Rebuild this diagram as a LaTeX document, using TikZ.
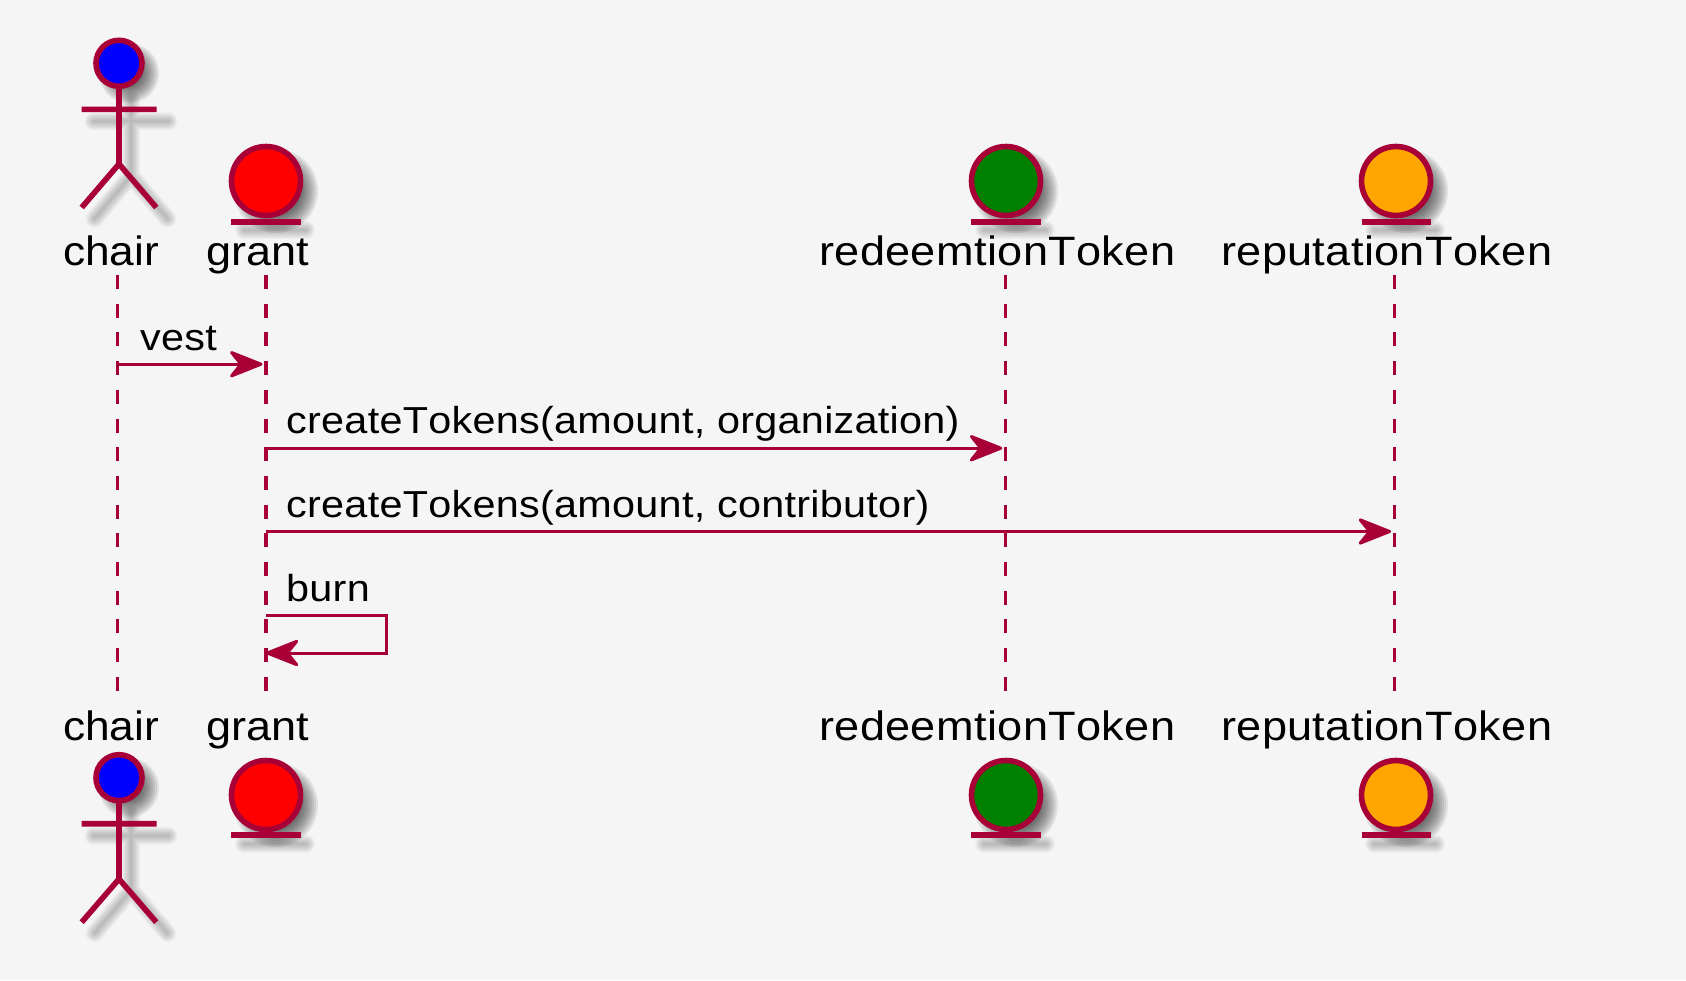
\documentclass[tikz,border=0pt]{standalone}
\usepackage{fontspec}
\setmainfont{Liberation Sans}
\newfontfamily\widefont{Liberation Sans}[Kerning=Off,FakeStretch=1.1,LetterSpace=0.9]
\newfontfamily\plainfont{Liberation Sans}[Kerning=Off,FakeStretch=1.1]
\newfontfamily\chairfont{Liberation Sans}[Kerning=Off,FakeStretch=1.08]
\newfontfamily\msgfont{Liberation Sans}[Kerning=Off,FakeStretch=1.1,LetterSpace=0.75]
\usetikzlibrary{arrows.meta}
\definecolor{umlline}{HTML}{A80036}
\definecolor{umlbg}{HTML}{F5F5F5}
\definecolor{umlorange}{HTML}{FFA500}
\definecolor{umlgreen}{HTML}{008000}
\tikzset{
  x=1pt,y=-1pt,
  lifeline/.style={draw=umlline,line width=3.4pt,dash pattern=on 14pt off 14.7pt},
  msg/.style={draw=umlline,line width=3pt,-{Stealth[length=38pt,width=30pt,inset=12pt,round]}},
  labelbase/.style={anchor=base west,inner sep=0pt,text=black},
  actorlabel/.style={labelbase,font=\widefont\fontsize{41}{41}\selectfont},
  grantlabel/.style={labelbase,font=\plainfont\fontsize{41}{41}\selectfont},
  chairlabel/.style={labelbase,font=\chairfont\fontsize{41}{41}\selectfont},
  msglabel/.style={labelbase,font=\msgfont\fontsize{37.6}{38}\selectfont},
  limb/.style={draw=umlline,line width=5.6pt},
  entityhead/.style={circle,draw=umlline,line width=5.6pt,minimum size=69pt,inner sep=0pt},
  actorhead/.style={circle,draw=umlline,line width=5.6pt,minimum size=46pt,inner sep=0pt},
}
% soft shadow: stack of translucent strokes of a path, offset down-right
\newcommand{\softstroke}[2]{%
  \foreach \wd in {18,16,14,12,10,8,6,4,2}{
    \draw[shift={(#1)},line width=\wd pt,draw=black,draw opacity=.026,line cap=round] #2;
  }}
\newcommand{\softdisc}[2]{% centre, radius
  \foreach \wd in {5,3,1,-1,-3,-5,-7,-9,-11}{
    \fill[black,fill opacity=.08] (#1) ++(10,10) circle[radius=#2+\wd];
  }}
\newcommand{\actorshadow}[2]{% x, head y
  \softdisc{#1,#2}{25}
  \softstroke{12,12}{(#1,#2+25) -- ++(0,75.5) (#1,#2+46) ++(-37.5,0) -- ++(75,0) (#1-36.5,#2+143.5) -- (#1,#2+100.5) -- (#1+36.5,#2+143.5)}
}
\newcommand{\entityshadow}[2]{% x, centre y
  \softdisc{#1,#2}{37}
  \softstroke{8,8}{(#1-30,#2+40.7) -- ++(62,0)}
}
\begin{document}
\begin{tikzpicture}
\useasboundingbox (0,0) rectangle (1686,980);
\fill[umlbg] (0,0) rectangle (1686,980);

% lifeline ends
\coordinate (chairT) at (117.7,275);  \coordinate (chairB) at (117.7,692);
\coordinate (grantT) at (265.8,275);  \coordinate (grantB) at (265.8,692);
\coordinate (redeemT) at (1005.6,275);\coordinate (redeemB) at (1005.6,692);
\coordinate (reputT) at (1394.4,275); \coordinate (reputB) at (1394.4,692);
\draw[lifeline] (chairT) -- (chairB);
\draw[lifeline] (grantT) -- (grantB);
\draw[lifeline] (redeemT) -- (redeemB);
\draw[lifeline] (reputT) -- (reputB);

% top participants
\actorshadow{119}{63.3}
\draw[limb] (119,86) -- (119,164) (81.7,109.3) -- (156.7,109.3)
  (81.7,207.5) -- (119,164) -- (156.3,207.5);
\node[actorhead,fill=blue] (chairHeadTop) at (119,63.3) {};
\node[chairlabel] (chairTop) at (63,265) {chair};

\entityshadow{266}{181}
\node[entityhead,fill=red] (grantHeadTop) at (266,181) {};
\draw[limb] (231,221.7) -- (300.7,221.7);
\node[grantlabel] (grantTop) at (206.5,265) {grant};

\entityshadow{1006}{181}
\node[entityhead,fill=umlgreen] (redeemHeadTop) at (1006,181) {};
\draw[limb] (971,221.7) -- (1040.5,221.7);
\node[actorlabel] (redeemTop) at (819,265) {redeemtionToken};

\entityshadow{1396}{181}
\node[entityhead,fill=umlorange] (reputHeadTop) at (1396,181) {};
\draw[limb] (1361.5,221.7) -- (1430.8,221.7);
\node[actorlabel] (reputTop) at (1221,265) {reputationToken};

% messages
\coordinate (m1a) at (chairT |- 0,364.2);
\coordinate (m1b) at (grantT |- 0,364.2);
\draw[msg,shorten >=3.3pt] (m1a) -- (m1b);
\node[msglabel] (vest) at (140,350) {vest};

\coordinate (m2a) at (grantT |- 0,448.2);
\coordinate (m2b) at (redeemT |- 0,448.2);
\draw[msg,shorten >=3.3pt] (m2a) -- (m2b);
\node[msglabel] (m2t) at (286,433) {createTokens(amount, organization)};

\coordinate (m3a) at (grantT |- 0,531.5);
\coordinate (m3b) at (reputT |- 0,531.5);
\draw[msg,shorten >=3.3pt] (m3a) -- (m3b);
\node[msglabel] (m3t) at (286,517) {createTokens(amount, contributor)};

\coordinate (m4a) at (grantT |- 0,615.7);
\coordinate (m4r) at (386.7,615.7);
\coordinate (m4s) at (386.7,653);
\coordinate (m4b) at (grantT |- 0,653);
\draw[msg,line join=miter] (m4a) -- (m4r) -- (m4s) -- (m4b);
\node[msglabel] (burn) at (286,601) {burn};

% bottom participants
\node[chairlabel] (chairBot) at (63,740) {chair};
\actorshadow{119}{777.7}
\draw[limb] (119,800) -- (119,879) (81.7,823.7) -- (156.7,823.7)
  (81.7,922.2) -- (119,879) -- (156.3,922.2);
\node[actorhead,fill=blue] (chairHeadBot) at (119,777.7) {};

\node[grantlabel] (grantBot) at (206.5,740) {grant};
\entityshadow{266}{795}
\node[entityhead,fill=red] (grantHeadBot) at (266,795) {};
\draw[limb] (231,835) -- (300.7,835);

\node[actorlabel] (redeemBot) at (819,740) {redeemtionToken};
\entityshadow{1006}{795}
\node[entityhead,fill=umlgreen] (redeemHeadBot) at (1006,795) {};
\draw[limb] (971,835) -- (1040.5,835);

\node[actorlabel] (reputBot) at (1221,740) {reputationToken};
\entityshadow{1396}{795}
\node[entityhead,fill=umlorange] (reputHeadBot) at (1396,795) {};
\draw[limb] (1361.5,835) -- (1430.8,835);
\end{tikzpicture}
\end{document}
